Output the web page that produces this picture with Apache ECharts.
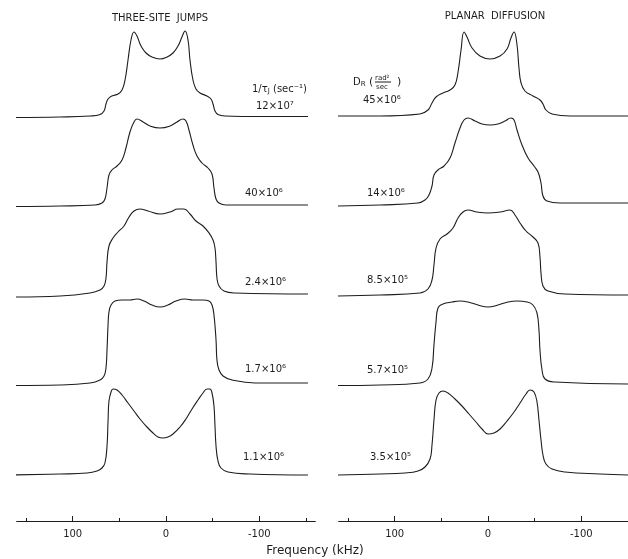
<!DOCTYPE html>
<html>
<head>
<meta charset="utf-8">
<script src="https://cdn.jsdelivr.net/npm/echarts@6/dist/echarts.min.js"></script>
<style>
  html, body { margin: 0; padding: 0; background: #fff; }
  #chart { width: 628px; height: 559px; }
</style>
</head>
<body>
<div id="chart"></div>
<script>
// Frequency axes (kHz), drawn high-to-low from left to right
const jumpFreqRange = [-160, 160];
const diffFreqRange = [-150, 160];
const majorTicks = [100, 0, -100];
const minorTicks = [150, 50, -50, -150];

// Row labels
const jumpRates = ['12×10⁷', '40×10⁶', '2.4×10⁶', '1.7×10⁶', '1.1×10⁶'];
const diffRates = ['45×10⁶', '14×10⁶', '8.5×10⁵', '5.7×10⁵', '3.5×10⁵'];

// Three-site jump line shapes: [frequency kHz, intensity]
const jump12e7 = [[165,-1.5],[113.6,-1],[81.4,0],[70.7,1.5],[66.4,5],[64.3,12],[62.1,17],[57.9,20],[51.4,22],[47.1,26],[43.9,36],[40.7,56],[37.5,76],[34.3,84],[31.1,80],[26.8,70],[21.4,63],[15,59],[6.4,57],[-1.1,59],[-7.5,63],[-12.9,70],[-17.1,79],[-20.4,85],[-23.6,76],[-25.7,56],[-28.9,36],[-32.1,27],[-36.4,23],[-43.9,20],[-48.2,17],[-50.4,12],[-52.5,5],[-55.7,1.5],[-63.2,0],[-100.7,-0.5],[-152.1,-0.5]];
const jump40e6 = [[165,-1.5],[113.6,-1],[76.1,0],[68.6,2],[65.4,6],[63.2,17],[61.1,30],[57.9,35],[52.5,39],[47.1,45],[42.9,57],[38.6,73],[34.3,83],[31.1,86],[24.6,83],[17.1,79],[6.4,77],[-4.3,79],[-11.8,83],[-18.2,86],[-21.4,84],[-24.6,75],[-28.9,60],[-33.2,49],[-38.6,42],[-45,37],[-49.3,31],[-51.4,17],[-53.6,6],[-56.8,2],[-64.3,0],[-152.1,0]];
const jump24e5 = [[165,-2],[113.6,-1],[81.4,2],[70.7,5],[66.4,9],[64.3,17],[63.2,33],[61.1,49],[56.8,57],[51.4,63],[45,69],[39.6,78],[34.3,84],[27.9,86],[19.3,84],[6.4,81],[-4.3,83],[-12.9,86],[-19.3,86],[-25.7,81],[-32.1,74],[-39.6,69],[-46.1,62],[-50.4,55],[-52.5,47],[-53.6,33],[-54.6,17],[-56.8,9],[-62.1,4],[-73.9,2],[-152.1,1]];
const jump17e5 = [[165,-1.5],[113.6,-1],[81.4,1],[70.7,4],[66.4,8],[64.3,16],[63.2,34],[62.1,59],[61.1,72],[58.9,79],[54.6,83],[47.1,84],[38.6,84],[31.1,85],[23.6,83],[15,79],[6.4,77],[-2.1,79],[-10.7,83],[-20.4,85],[-28.9,84],[-39.6,84],[-46.1,83],[-49.3,79],[-51.4,69],[-53.6,44],[-54.6,24],[-56.8,14],[-61.1,8],[-70.7,4],[-95.4,1],[-152.1,1]];
const jump11e5 = [[165,-1],[113.6,0],[84.6,1],[73.9,3],[68.6,6],[65.4,11],[63.2,28],[62.1,53],[61.1,73],[58.9,82],[56.8,85],[52.5,84],[47.1,79],[40.7,71],[34.3,63],[27.9,55],[20.4,47],[13.9,41],[8.6,37],[3.2,36],[-2.1,37],[-7.5,40],[-15,47],[-21.4,55],[-27.9,65],[-34.3,74],[-39.6,81],[-43.9,85],[-47.1,85],[-49.3,81],[-51.4,68],[-52.5,48],[-53.6,28],[-55.7,13],[-58.9,6],[-66.4,2],[-90,0],[-152.1,-1]];

// Planar diffusion line shapes: [frequency kHz, intensity]
const diff45e6 = [[160.7,0],[115.7,0],[72.9,2],[64.3,6],[60,13],[55.7,19],[48.2,23],[40.7,26],[35.4,31],[32.1,44],[28.9,66],[25.7,84],[22.5,79],[17.1,68],[8.6,60],[-2.1,57],[-12.9,60],[-20.4,67],[-24.6,78],[-27.9,84],[-31.1,71],[-33.2,48],[-35.4,33],[-39.6,25],[-48.2,20],[-55.7,16],[-58.9,12],[-62.1,6],[-68.6,2],[-87.9,0],[-150,0]];
const diff14e6 = [[160.7,-1],[115.7,0],[75,2],[67.5,5],[63.2,10],[60,19],[57.9,30],[53.6,35],[47.1,39],[40.7,47],[35.4,62],[30,77],[25.7,85],[21.4,87],[13.9,84],[6.4,81],[-2.1,80],[-10.7,81],[-18.2,84],[-24.6,87],[-27.9,85],[-31.1,75],[-36.4,60],[-42.9,47],[-49.3,39],[-53.6,33],[-56.8,22],[-58.9,9],[-63.2,4],[-77.1,2],[-150,2]];
const diff85e5 = [[160.7,-1],[115.7,0],[72.9,2],[64.3,6],[60,15],[57.9,30],[55.7,47],[51.4,56],[43.9,61],[37.5,67],[32.1,77],[26.8,83],[21.4,85],[11.8,83],[0,82],[-12.9,83],[-23.6,85],[-28.9,80],[-34.3,72],[-40.7,64],[-48.2,58],[-53.6,52],[-55.7,38],[-56.8,22],[-58.9,9],[-64.3,4],[-82.5,1],[-150,0]];
const diff57e5 = [[160.7,-1.5],[115.7,-1],[72.9,1],[64.3,5],[60,16],[57.9,39],[55.7,62],[53.6,76],[48.2,80],[38.6,82],[30,83],[21.4,82],[10.7,79],[0,77],[-10.7,79],[-21.4,82],[-31.1,83],[-41.8,82],[-48.2,79],[-52.5,71],[-54.6,54],[-55.7,34],[-57.9,14],[-61.1,5],[-71.8,2],[-150,0]];
const diff35e5 = [[161.8,-1],[115.7,0],[88.9,1],[75,3],[67.5,7],[62.1,15],[60,29],[57.9,54],[55.7,74],[52.5,81],[48.2,83],[42.9,81],[35.4,75],[27.9,68],[20.4,60],[12.9,52],[6.4,45],[0,40],[-6.4,41],[-12.9,45],[-20.4,53],[-27.9,62],[-34.3,71],[-40.7,80],[-45,84],[-49.3,82],[-52.5,72],[-54.6,54],[-56.8,34],[-58.9,19],[-62.1,10],[-68.6,5],[-82.5,2],[-120,0],[-150,-1]];

const jumpSpectra = [jump12e7, jump40e6, jump24e5, jump17e5, jump11e5];
const diffSpectra = [diff45e6, diff14e6, diff85e5, diff57e5, diff35e5];

// Layout: both panels share the same kHz-to-pixel scale
const pxPerKHz = 0.9333;
const panelZeroX = [166, 488];
const panelRange = [jumpFreqRange, diffFreqRange];
const rowBaseline = [116, 205, 295, 384, 474];
const rowHeight = 100;
const axisY = 521;
const ink = '#1d1d1d';
const fontFamily = '"DejaVu Sans", "Liberation Sans", sans-serif';

function panelBox(panel) {
  const r = panelRange[panel];
  return { left: panelZeroX[panel] - r[1] * pxPerKHz, width: (r[1] - r[0]) * pxPerKHz };
}

const grids = [], xAxes = [], yAxes = [], series = [];

function addSpectrum(panel, row, data) {
  const gi = grids.length;
  const box = panelBox(panel);
  grids.push({ left: box.left, width: box.width, top: rowBaseline[row] - rowHeight, height: rowHeight });
  xAxes.push({ gridIndex: gi, type: 'value', min: panelRange[panel][0], max: panelRange[panel][1], inverse: true, show: false });
  yAxes.push({ gridIndex: gi, type: 'value', min: 0, max: rowHeight, show: false });
  series.push({
    type: 'line', xAxisIndex: gi, yAxisIndex: gi, data: data,
    showSymbol: false, smooth: 0.45, clip: false,
    lineStyle: { color: ink, width: 1.1 }, silent: true
  });
}

function addFreqAxis(panel) {
  const gi = grids.length;
  const box = panelBox(panel);
  const r = panelRange[panel];
  grids.push({ left: box.left, width: box.width, top: axisY - 10, height: 10 });
  xAxes.push({
    gridIndex: gi, type: 'value', min: r[0], max: r[1], inverse: true, position: 'bottom',
    axisLine: { show: true, lineStyle: { color: ink, width: 1 } },
    axisTick: { show: true, inside: true, length: 5, customValues: majorTicks, lineStyle: { color: ink, width: 1 } },
    axisLabel: { show: true, customValues: majorTicks, margin: 8, color: ink, fontSize: 10, fontFamily: fontFamily },
    splitLine: { show: false }
  });
  xAxes.push({
    gridIndex: gi, type: 'value', min: r[0], max: r[1], inverse: true, position: 'bottom',
    axisLine: { show: false },
    axisTick: { show: true, inside: true, length: 3, customValues: minorTicks.filter(v => v > r[0]), lineStyle: { color: ink, width: 1 } },
    axisLabel: { show: false },
    splitLine: { show: false }
  });
  yAxes.push({ gridIndex: gi, type: 'value', min: 0, max: 1, show: false });
}

jumpSpectra.forEach((d, i) => addSpectrum(0, i, d));
diffSpectra.forEach((d, i) => addSpectrum(1, i, d));
addFreqAxis(0);
addFreqAxis(1);

function txt(x, y, text, size, align, rich) {
  return {
    type: 'text', x: x, y: y, silent: true,
    style: { text: text, font: size + 'px ' + fontFamily, fill: ink, align: align || 'left', verticalAlign: 'middle', rich: rich }
  };
}

const subStyle = { s: { fontSize: 7, fontFamily: fontFamily, fill: ink, padding: [5, 0, 0, 0] } };

const graphics = [
  txt(160, 18, 'THREE-SITE  JUMPS', 10, 'center'),
  txt(495, 16, 'PLANAR  DIFFUSION', 10, 'center'),
  txt(252, 89, '1/τ{s|J} (sec⁻¹)', 10, 'left', subStyle),
  // D_R (rad²/sec)
  txt(353, 82, 'D{s|R}', 10, 'left', subStyle),
  txt(369, 82, '(', 11, 'left'),
  txt(375, 78, 'rad²', 7, 'left'),
  { type: 'line', silent: true, shape: { x1: 375, y1: 82, x2: 391, y2: 82 }, style: { stroke: ink, lineWidth: 1 } },
  txt(376, 87, 'sec', 7, 'left'),
  txt(397, 82, ')', 11, 'left'),
  txt(315, 551, 'Frequency (kHz)', 12, 'center')
];

const jumpLabelPos = [[256, 106], [245, 193], [245, 282], [245, 369], [243, 457]];
const diffLabelPos = [[363, 100], [367, 193], [367, 280], [367, 370], [370, 457]];
jumpRates.forEach((t, i) => graphics.push(txt(jumpLabelPos[i][0], jumpLabelPos[i][1], t, 10)));
diffRates.forEach((t, i) => graphics.push(txt(diffLabelPos[i][0], diffLabelPos[i][1], t, 10)));

const chart = echarts.init(document.getElementById('chart'), null, { renderer: 'canvas' });
chart.setOption({
  animation: false,
  backgroundColor: '#ffffff',
  grid: grids,
  xAxis: xAxes,
  yAxis: yAxes,
  series: series,
  graphic: graphics
});
</script>
</body>
</html>
